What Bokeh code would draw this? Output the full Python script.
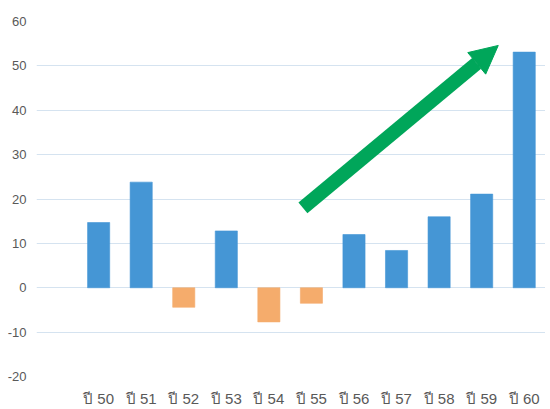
from bokeh.plotting import figure
from bokeh.models import Range1d, FixedTicker, ColumnDataSource, Arrow, NormalHead
from bokeh.embed import file_html
from bokeh.resources import INLINE

categories = ["ปี 50", "ปี 51", "ปี 52", "ปี 53", "ปี 54", "ปี 55",
              "ปี 56", "ปี 57", "ปี 58", "ปี 59", "ปี 60"]
values = [14.7, 23.8, -4.4, 12.8, -7.7, -3.5, 12.0, 8.4, 16.0, 21.1, 53.1]
y_ticks = [-20, -10, 0, 10, 20, 30, 40, 50, 60]
y_tick_labels = ["-20", "-10", "0", "10", "20", "30", "40", "50", "60"]

# trend arrow (category index, value)
arrow_start = (4.8, 18.0)
arrow_end = (9.39, 54.6)

BLUE = "#4596d5"
ORANGE = "#f5ac6c"

idx = list(range(len(categories)))
colors = [BLUE if v >= 0 else ORANGE for v in values]
src = ColumnDataSource(dict(x=idx, top=values, color=colors))

p = figure(width=545, height=409, output_backend="svg", toolbar_location=None,
           x_range=Range1d(-1.46, 10.5), y_range=Range1d(-20, 60),
           min_border_left=36, min_border_right=0, min_border_top=21,
           min_border_bottom=29)
p.outline_line_color = None
p.background_fill_color = "white"

p.vbar(x="x", top="top", bottom=0, width=0.52, fill_color="color",
       line_color="color", line_alpha=0.6, source=src)

p.add_layout(Arrow(x_start=arrow_start[0], y_start=arrow_start[1],
                   x_end=arrow_end[0], y_end=arrow_end[1],
                   line_color="#00a65a", line_width=14,
                   end=NormalHead(size=28, fill_color="#00a65a",
                                  line_color="#00a65a", line_width=1)))

p.xaxis.ticker = FixedTicker(ticks=idx)
p.xaxis.major_label_overrides = {i: c for i, c in zip(idx, categories)}
p.xaxis.axis_line_color = None
p.xaxis.major_tick_line_color = None
p.xaxis.minor_tick_line_color = None
p.xaxis.major_label_text_font = "Liberation Sans"
p.xaxis.major_label_text_font_size = "15px"
p.xaxis.major_label_text_color = "#595959"
p.xaxis.major_label_standoff = 7

p.yaxis.ticker = FixedTicker(ticks=y_ticks)
p.yaxis.major_label_overrides = {t: s for t, s in zip(y_ticks, y_tick_labels)}
p.yaxis.axis_line_color = None
p.yaxis.major_tick_line_color = None
p.yaxis.minor_tick_line_color = None
p.yaxis.major_label_text_font = "Liberation Sans"
p.yaxis.major_label_text_font_size = "13px"
p.yaxis.major_label_text_color = "#595959"
p.yaxis.major_label_standoff = 4

p.xgrid.grid_line_color = None
p.ygrid.ticker = FixedTicker(ticks=y_ticks)
p.ygrid.grid_line_color = "#d5e3f0"
p.ygrid.grid_line_width = 1

open("out.html", "w").write(file_html(p, INLINE))
